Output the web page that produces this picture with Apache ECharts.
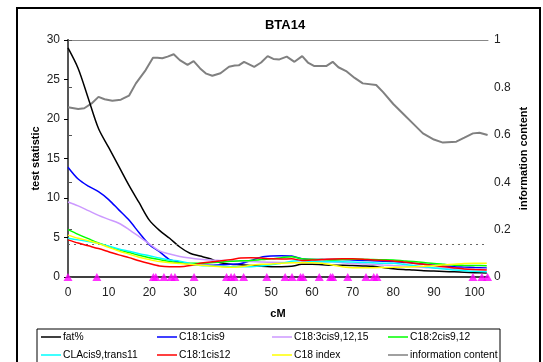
<!DOCTYPE html>
<html>
<head>
<meta charset="utf-8">
<script src="https://cdn.jsdelivr.net/npm/echarts@6/dist/echarts.min.js"></script>
<style>
  html, body { margin: 0; padding: 0; background: #fff; }
  #main { width: 543px; height: 362px; }
</style>
</head>
<body>
<div id="main"></div>
<script>
// positions (cM) shared by the test statistic curves
var positions = [0, 2.5, 5, 7.5, 10, 12.5, 15, 17.5, 20, 22.5, 25, 27.5, 30, 32.5, 35, 37.5, 40, 42.5, 45, 47.5,
  50, 52.5, 55, 57.5, 60, 62.5, 65, 67.5, 70, 72.5, 75, 77.5, 80, 82.5, 85, 87.5, 90, 92.5, 95, 97.5, 100, 103];

var fatPct   = [29.0, 26.4, 22.6, 18.8, 16.4, 14.0, 11.6, 9.4, 7.2, 5.9, 4.9, 3.8, 3.0, 2.65, 2.3, 1.8, 1.6, 1.55, 1.45, 1.35,
  1.3, 1.3, 1.35, 1.6, 1.6, 1.55, 1.5, 1.5, 1.45, 1.4, 1.35, 1.2, 1.05, 0.95, 0.88, 0.8, 0.75, 0.7, 0.65, 0.6, 0.55, 0.5];
var c181cis9 = [13.9, 12.4, 11.5, 10.8, 9.8, 8.5, 7.2, 5.6, 4.1, 3.2, 2.2, 1.9, 1.6, 1.5, 1.5, 1.55, 1.6, 1.7, 2.1, 2.5,
  2.65, 2.7, 2.65, 2.3, 2.2, 2.2, 2.2, 2.2, 2.15, 2.1, 2.05, 2.0, 1.95, 1.85, 1.75, 1.6, 1.5, 1.4, 1.3, 1.25, 1.2, 1.15];
var c183     = [9.5, 9.0, 8.4, 7.8, 7.3, 6.8, 6.0, 5.1, 4.2, 3.3, 2.9, 2.6, 2.4, 2.25, 2.15, 2.1, 2.05, 2.0, 1.95, 1.9,
  1.86, 1.85, 1.85, 1.86, 1.9, 1.92, 1.94, 1.8, 1.7, 1.65, 1.6, 1.52, 1.45, 1.4, 1.3, 1.2, 1.15, 1.1, 1.05, 1.02, 1.0, 1.0];
var c182     = [6.0, 5.4, 4.85, 4.3, 3.85, 3.45, 3.1, 2.75, 2.45, 2.2, 1.95, 1.8, 1.75, 1.73, 1.8, 1.9, 2.0, 2.05, 2.1, 2.2,
  2.3, 2.45, 2.57, 2.3, 2.25, 2.2, 2.15, 2.2, 2.25, 2.25, 2.2, 2.18, 2.15, 2.05, 1.95, 1.83, 1.7, 1.6, 1.5, 1.47, 1.45, 1.43];
var cla      = [4.9, 4.7, 4.5, 4.25, 3.9, 3.55, 3.25, 2.95, 2.7, 2.4, 2.15, 2.0, 1.7, 1.45, 1.4, 1.35, 1.3, 1.3, 1.3, 1.4,
  1.55, 1.73, 2.0, 2.1, 1.95, 1.94, 1.94, 1.94, 1.9, 1.85, 1.8, 1.75, 1.73, 1.6, 1.45, 1.3, 1.15, 1.0, 0.9, 0.8, 0.72, 0.68];
var c181cis12 = [4.7, 4.3, 3.95, 3.6, 3.2, 2.8, 2.45, 2.05, 1.7, 1.4, 1.3, 1.3, 1.45, 1.73, 1.9, 2.05, 2.2, 2.4, 2.45, 2.4,
  2.3, 2.28, 2.3, 2.1, 2.15, 2.2, 2.28, 2.3, 2.3, 2.25, 2.15, 2.1, 2.03, 1.9, 1.75, 1.6, 1.45, 1.3, 1.15, 1.02, 0.95, 0.89];
var c18index = [5.3, 4.9, 4.6, 4.25, 3.75, 3.3, 2.9, 2.5, 2.2, 1.95, 1.8, 1.7, 1.6, 1.5, 1.4, 1.3, 1.23, 1.3, 1.5, 1.6,
  1.65, 1.75, 1.8, 1.8, 1.8, 1.75, 1.52, 1.3, 1.18, 1.18, 1.18, 1.2, 1.22, 1.25, 1.3, 1.35, 1.42, 1.52, 1.63, 1.72, 1.73, 1.73];

// information content (right axis)
var infoPos  = [0, 2.5, 4, 6, 7.5, 9, 10.9, 13, 15, 16.7, 19.1, 20.9, 22, 23.2, 24.5, 26, 27.5, 29.4, 30.9, 32.5, 34, 35.5,
  37.5, 39.6, 41, 42, 43.3, 45.8, 47.5, 49.1, 50.5, 52, 53.8, 55.7, 57.6, 59, 60.6, 63.5, 65.1, 66.5, 68.4, 70.5, 72.5,
  75.8, 77.5, 80, 82.3, 85, 87.3, 90, 92.2, 95.5, 97.5, 99.6, 101.2, 103.2];
var infoVals = [0.716, 0.709, 0.712, 0.735, 0.760, 0.750, 0.744, 0.748, 0.765, 0.817, 0.873, 0.925, 0.925, 0.923, 0.930, 0.940,
  0.915, 0.895, 0.911, 0.880, 0.858, 0.849, 0.860, 0.887, 0.892, 0.893, 0.908, 0.887, 0.905, 0.932, 0.920, 0.918, 0.930, 0.908,
  0.932, 0.905, 0.890, 0.890, 0.908, 0.885, 0.869, 0.840, 0.817, 0.810, 0.780, 0.730, 0.691, 0.645, 0.606, 0.580, 0.567,
  0.571, 0.588, 0.606, 0.609, 0.599];

// marker positions (cM)
var markers = [0, 7.1, 21, 21.6, 23.6, 25.4, 26.3, 31, 39, 40.1, 40.9, 43.2, 48.9, 53.4, 55.1, 57.2, 57.8, 61.8,
  64.6, 65.1, 68.8, 73.3, 75.2, 76, 99.6, 101.8, 103.2];

var threshold = 4.18;

var names = ['fat%', 'C18:1cis9', 'C18:3cis9,12,15', 'C18:2cis9,12', 'CLAcis9,trans11', 'C18:1cis12', 'C18 index', 'information content'];
var colors = ['#000000', '#0000ff', '#cc99ff', '#00ff00', '#00ffff', '#ff0000', '#ffff00', '#808080'];
var values = [fatPct, c181cis9, c183, c182, cla, c181cis12, c18index];

function pairs(xs, ys) {
  return xs.map(function (x, i) { return [x, ys[i]]; });
}

var chartDom = document.getElementById('main');
var myChart = echarts.init(chartDom);
var option;

var font = 'Liberation Sans, Arial, sans-serif';

var series = values.map(function (v, i) {
  return {
    name: names[i],
    type: 'line',
    data: pairs(positions, v),
    showSymbol: false,
    smooth: 0.3,
    lineStyle: { width: 1.5, color: colors[i] },
    itemStyle: { color: colors[i] },
    z: 3 + i
  };
});
series[0].markLine = {
  silent: true,
  symbol: 'none',
  label: { show: false },
  lineStyle: { type: [2, 4], color: '#666', width: 1 },
  data: [{ yAxis: threshold }]
};
series.push({
  name: names[7],
  type: 'line',
  yAxisIndex: 1,
  data: pairs(infoPos, infoVals),
  showSymbol: false,
  lineStyle: { width: 2, color: colors[7] },
  itemStyle: { color: colors[7] },
  z: 2
});
series.push({
  name: 'markers',
  type: 'scatter',
  data: markers.map(function (m) { return [m, 0]; }),
  symbol: 'triangle',
  symbolSize: [9, 8],
  itemStyle: { color: '#ff00ff' },
  z: 20
});

// legend: 4 columns x 2 rows
var colX = [41, 157, 272, 388];
var rowY = [332, 350];
var legends = names.map(function (n, i) {
  return {
    data: [n],
    left: colX[i % 4],
    top: rowY[Math.floor(i / 4)],
    orient: 'horizontal',
    padding: 0,
    icon: 'rect',
    itemWidth: 20,
    itemHeight: 1.5,
    itemGap: 2,
    selectedMode: false,
    textStyle: { fontFamily: font, fontSize: 10.3, color: '#000', padding: [0, 0, 0, -3] }
  };
});

option = {
  animation: false,
  backgroundColor: '#fff',
  title: {
    text: 'BTA14',
    left: 280,
    textAlign: 'center',
    top: 14,
    textStyle: { fontFamily: font, fontSize: 13, fontWeight: 'bold', color: '#000' }
  },
  graphic: [
    { type: 'rect', shape: { x: 17, y: 8, width: 523, height: 370 }, style: { fill: 'none', stroke: '#000', lineWidth: 2 }, silent: true },
    { type: 'rect', shape: { x: 37, y: 329, width: 463, height: 40 }, style: { fill: 'none', stroke: '#000', lineWidth: 1 }, silent: true }
  ],
  legend: legends,
  grid: { left: 68, right: 55, top: 40, bottom: 85 },
  xAxis: [{
    type: 'value',
    min: 0,
    max: 103.3,
    interval: 10,
    name: 'cM',
    nameLocation: 'middle',
    nameGap: 31,
    nameTextStyle: { fontFamily: font, fontSize: 11, fontWeight: 'bold', color: '#000' },
    axisLine: { onZero: false, lineStyle: { color: '#000', width: 1.5 } },
    axisTick: { show: false },
    splitLine: { show: false },
    axisLabel: { fontFamily: font, fontSize: 12, color: '#222', margin: 10 }
  }, {
    type: 'value',
    position: 'top',
    min: 0,
    max: 103.3,
    axisLine: { show: true, onZero: false, lineStyle: { color: '#888', width: 1 } },
    axisTick: { show: false },
    axisLabel: { show: false },
    splitLine: { show: false }
  }],
  yAxis: [{
    type: 'value',
    min: 0,
    max: 30,
    interval: 5,
    name: 'test statistic',
    nameLocation: 'middle',
    nameRotate: 90,
    nameGap: 27,
    nameMoveOverlap: false,
    nameTextStyle: { fontFamily: font, fontSize: 11, fontWeight: 'bold', color: '#000' },
    axisLine: { show: true, lineStyle: { color: '#000', width: 1.5 } },
    axisTick: { show: true, length: 4, lineStyle: { color: '#000' } },
    splitLine: { show: false },
    axisLabel: { fontFamily: font, fontSize: 12, color: '#222', margin: 8 }
  }, {
    type: 'value',
    min: 0,
    max: 1,
    interval: 0.2,
    position: 'right',
    name: 'information content',
    nameLocation: 'middle',
    nameRotate: 90,
    nameGap: 30,
    nameMoveOverlap: false,
    nameTextStyle: { fontFamily: font, fontSize: 11, fontWeight: 'bold', color: '#000' },
    axisLine: { show: true, lineStyle: { color: '#555', width: 2 } },
    axisTick: { show: true, length: 4, lineStyle: { color: '#555' } },
    splitLine: { show: false },
    axisLabel: { fontFamily: font, fontSize: 12, color: '#222', margin: 6 }
  }],
  series: series
};

option && myChart.setOption(option);
</script>
</body>
</html>
